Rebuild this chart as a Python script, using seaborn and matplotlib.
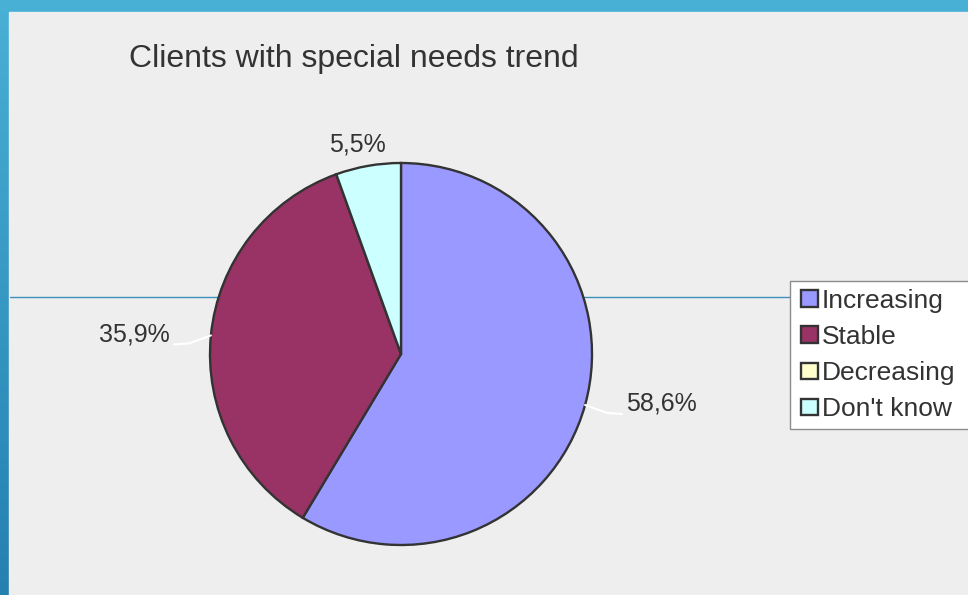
import numpy as np
import matplotlib
matplotlib.use("Agg")
import matplotlib.pyplot as plt
import seaborn as sns
from matplotlib.colors import LinearSegmentedColormap
from matplotlib.patches import Rectangle, Wedge
from matplotlib.legend_handler import HandlerPatch

# Data

categories = ["Increasing", "Stable", "Decreasing", "Don't know"]
shares = [58.6, 35.9, 0.0, 5.5]
share_labels = ["58,6%", "35,9%", "0,0%", "5,5%"]
colors = ["#9999ff", "#993366", "#ffffcc", "#ccffff"]
title = "Clients with special needs trend"

W, H = 968, 595
TXT = "#333333"

sns.set_theme(style="white")
plt.rcParams["font.family"] = ["Liberation Sans", "DejaVu Sans"]

fig = plt.figure(figsize=(W / 100, H / 100), dpi=100)
ax = fig.add_axes([0, 0, 1, 1])

# slide frame: blue gradient with grey panel

grad = np.linspace(0, 1, 256).reshape(-1, 1)
cmap = LinearSegmentedColormap.from_list("frame", ["#49b0d6", "#2480b0"])
ax.imshow(grad, extent=(0, W, 0, H), cmap=cmap, aspect="auto", zorder=0)
ax.add_patch(Rectangle((9, 0), W - 9, H - 12, color="#eeeeee", zorder=1))
ax.plot([10, 790], [H - 297, H - 297], color="#3d92bd", lw=1, zorder=2)

# Pie

cx, cy, r = 401, H - 354, 191
wedges, _ = ax.pie(
    shares,
    colors=colors,
    startangle=90,
    counterclock=False,
    center=(cx, cy),
    radius=r,
    wedgeprops=dict(edgecolor="#333333", linewidth=1.7, zorder=3),
)
ax.set_xlim(0, W)
ax.set_ylim(0, H)
ax.axis("off")

# percent labels with leader lines

for w, val, lab in zip(wedges, shares, share_labels):
    if val <= 0:
        continue
    theta = np.deg2rad((w.theta1 + w.theta2) / 2)
    c, s = np.cos(theta), np.sin(theta)
    x0, y0 = cx + r * c, cy + r * s
    if abs(c) < 0.3:
        ax.text(x0 - 11, y0 + 21, lab, fontsize=18,
                color=TXT, ha="center", va="center", zorder=5)
    else:
        side = 1 if c > 0 else -1
        ax.plot([x0, x0 + side * 22, x0 + side * 37],
                [y0, y0 - 8, y0 - 9], color="white", lw=1.5, zorder=4,
                solid_capstyle="round")
        ax.text(x0 + side * 41, y0 + 1, lab, fontsize=18, color=TXT,
                ha="left" if side > 0 else "right", va="center", zorder=5)

ax.text(129, H - 67, title, fontsize=23, color=TXT, ha="left", va="baseline")

# Legend


def square_patch(legend, orig_handle, xdescent, ydescent, width, height, fontsize):
    return Rectangle((-xdescent + width - height, -ydescent), height, height)


leg = ax.legend(
    wedges,
    categories,
    loc="upper left",
    bbox_to_anchor=(790, H - 429, 220, 148),
    bbox_transform=ax.transData,
    mode="expand",
    borderaxespad=0,
    fontsize=19,
    frameon=True,
    fancybox=False,
    framealpha=1,
    edgecolor="#8c8c8c",
    facecolor="white",
    borderpad=0.3,
    labelspacing=0.46,
    handlelength=0.76,
    handleheight=0.6,
    handletextpad=0.15,
    handler_map={Wedge: HandlerPatch(patch_func=square_patch)},
)
leg.get_frame().set_linewidth(1)
for t in leg.get_texts():
    t.set_color(TXT)

fig.savefig("out.png", dpi=100)
